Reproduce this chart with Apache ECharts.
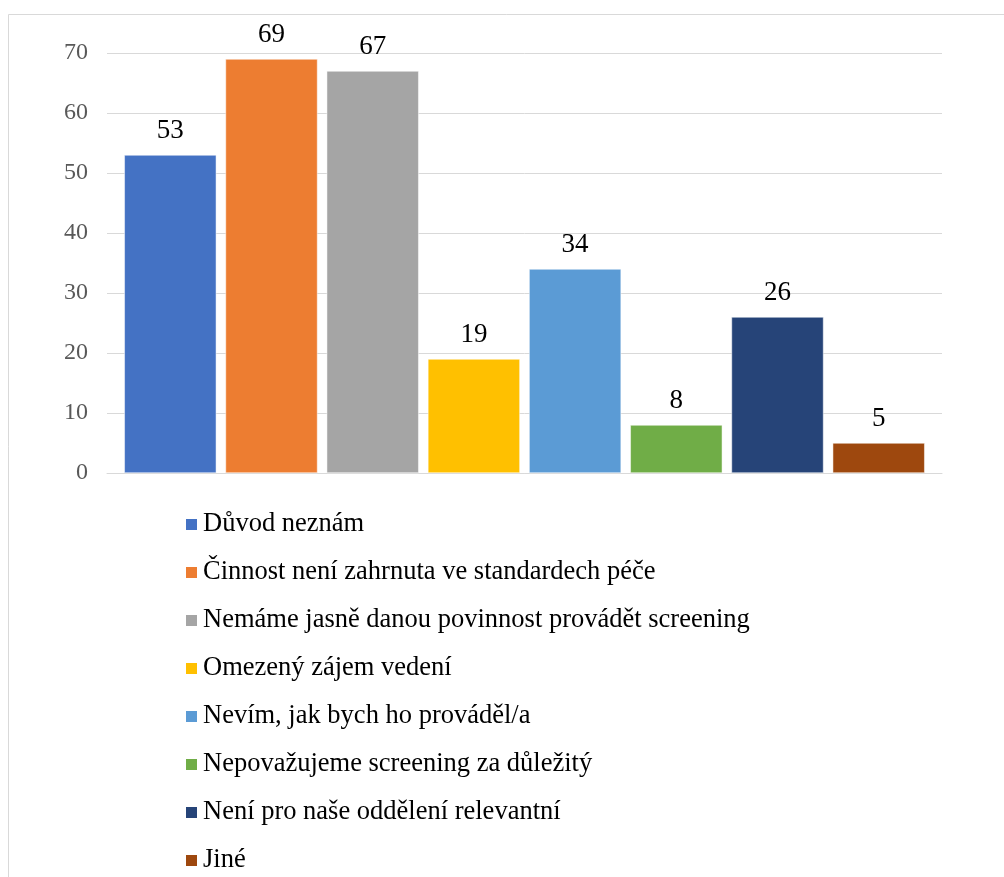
<!DOCTYPE html>
<html>
<head>
<meta charset="utf-8">
<style>
html,body{margin:0;padding:0;background:#fff;}
#chart{width:1004px;height:877px;}
</style>
<script src="https://cdn.jsdelivr.net/npm/echarts@6/dist/echarts.min.js"></script>
</head>
<body>
<div id="chart"></div>
<script>
const seriesNames = [
  'Důvod neznám',
  'Činnost není zahrnuta ve standardech péče',
  'Nemáme jasně danou povinnost provádět screening',
  'Omezený zájem vedení',
  'Nevím, jak bych ho prováděl/a',
  'Nepovažujeme screening za důležitý',
  'Není pro naše oddělení relevantní',
  'Jiné'
];
const seriesValues = [53, 69, 67, 19, 34, 8, 26, 5];
const seriesColors = ['#4472C4', '#ED7D31', '#A5A5A5', '#FFC000', '#5B9BD5', '#70AD47', '#264478', '#9E480E'];
const categories = [''];

const FONT = '"Liberation Serif", "Times New Roman", serif';
const chart = echarts.init(document.getElementById('chart'), null, {renderer: 'canvas'});
chart.setOption({
  backgroundColor: '#ffffff',
  animation: false,
  graphic: [{
    type: 'rect',
    shape: {x: 8.5, y: 14.5, width: 1010, height: 900},
    style: {fill: 'none', stroke: '#d9d9d9', lineWidth: 1},
    z: -10
  }],
  grid: {left: 107, right: 62, top: 53, bottom: 404, containLabel: false},
  xAxis: {
    type: 'category',
    data: categories,
    axisLine: {show: true, lineStyle: {color: '#d9d9d9', width: 1}},
    axisTick: {show: false},
    axisLabel: {show: false}
  },
  yAxis: {
    type: 'value',
    min: 0, max: 70, interval: 10,
    axisLine: {show: false},
    axisTick: {show: false},
    axisLabel: {color: '#595959', fontFamily: FONT, fontSize: 24, margin: 19},
    splitLine: {lineStyle: {color: '#d9d9d9', width: 1}}
  },
  legend: {
    orient: 'vertical',
    left: 184,
    top: 511,
    height: 400,
    padding: 0,
    itemWidth: 13,
    itemHeight: 13,
    itemGap: 21,
    icon: 'rect',
    textStyle: {color: '#000', fontFamily: FONT, fontSize: 26.5, lineHeight: 27},
    data: seriesNames
  },
  series: seriesNames.map((name, i) => ({
    name: name,
    type: 'bar',
    data: [seriesValues[i]],
    barWidth: 92,
    barGap: '10%',
    itemStyle: {color: seriesColors[i], borderColor: '#ffffff', borderWidth: 0.5},
    label: {show: true, position: 'top', distance: 11, color: '#000', fontFamily: FONT, fontSize: 27}
  }))
});
</script>
</body>
</html>
